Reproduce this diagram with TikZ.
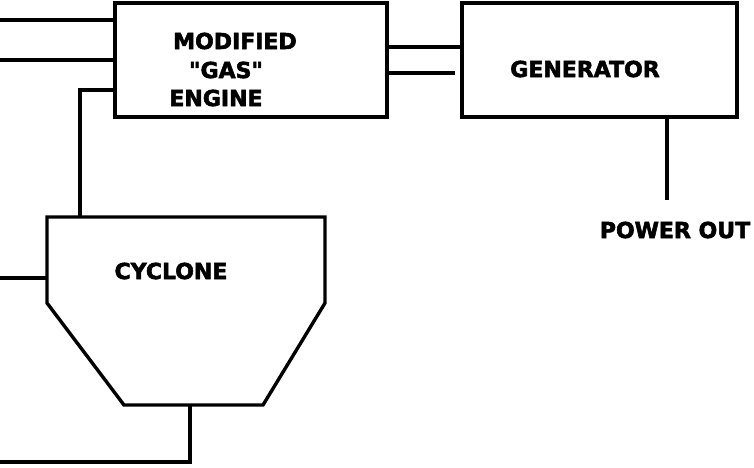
\documentclass[tikz,border=0pt]{standalone}
\usepackage{fontspec}
\newfontfamily\lblfont{DejaVu Sans Bold}[FakeBold=2.5]
\begin{document}
\begin{tikzpicture}[x=1pt,y=-1pt,
  line/.style={line width=3.4pt,line join=miter},
  box/.style={draw,line width=3.4pt,rectangle,inner sep=0pt},
  lbl/.style={font=\lblfont\fontsize{22}{24}\selectfont,inner sep=0pt,anchor=center}]
\useasboundingbox (0,0) rectangle (754,467);
% boxes
\node[box,minimum width=272pt,minimum height=114pt] (engine) at (251,60) {};
\node[box,minimum width=275pt,minimum height=114pt] (gen) at (599.5,60) {};
% labels
\node[lbl] (t1) at (235,41) {MODIFIED};
\node[lbl] (t2) at (226,70) {\char"0022 GAS\char"0022};
\node[lbl] (t3) at (216,98) {ENGINE};
\node[lbl] (tg) at (585,69) {GENERATOR};
\node[lbl] (tc) at (171,271) {CYCLONE};
\node[lbl] (tp) at (675,230) {POWER OUT};
% cyclone
\coordinate (ctl) at (47,217);
\coordinate (ctr) at (325,217);
\coordinate (cr) at (325,303);
\coordinate (cbr) at (263,405);
\coordinate (cbl) at (124,405);
\coordinate (cl) at (47,303);
\draw[line] (ctl) -- (ctr) -- (cr) -- (cbr) -- (cbl) -- (cl) -- cycle;
% inputs to engine
\coordinate (in1) at (0,20);
\coordinate (in2) at (0,60);
\draw[line] (in1) -- (in1 -| engine.west);
\draw[line] (in2) -- (in2 -| engine.west);
% engine to cyclone
\coordinate (ec) at (80,90);
\coordinate (ect) at (80,217);
\draw[line] (ec -| engine.west) -- (ec) -- (ect);
% cyclone inlet
\coordinate (cin) at (0,278);
\draw[line] (cin) -- (47,278);
% cyclone outlet
\coordinate (cob) at (190,405);
\coordinate (coc) at (190,462);
\coordinate (coe) at (0,462);
\draw[line] (cob) -- (coc) -- (coe);
% engine to generator
\coordinate (eg1) at (387,47);
\coordinate (eg2) at (387,73);
\coordinate (eg2e) at (455,73);
\draw[line] (eg1) -- (eg1 -| gen.west);
\draw[line] (eg2) -- (eg2e);
% power out
\coordinate (pw) at (667,200);
\draw[line] (gen.south -| pw) -- (pw);
\end{tikzpicture}
\end{document}
